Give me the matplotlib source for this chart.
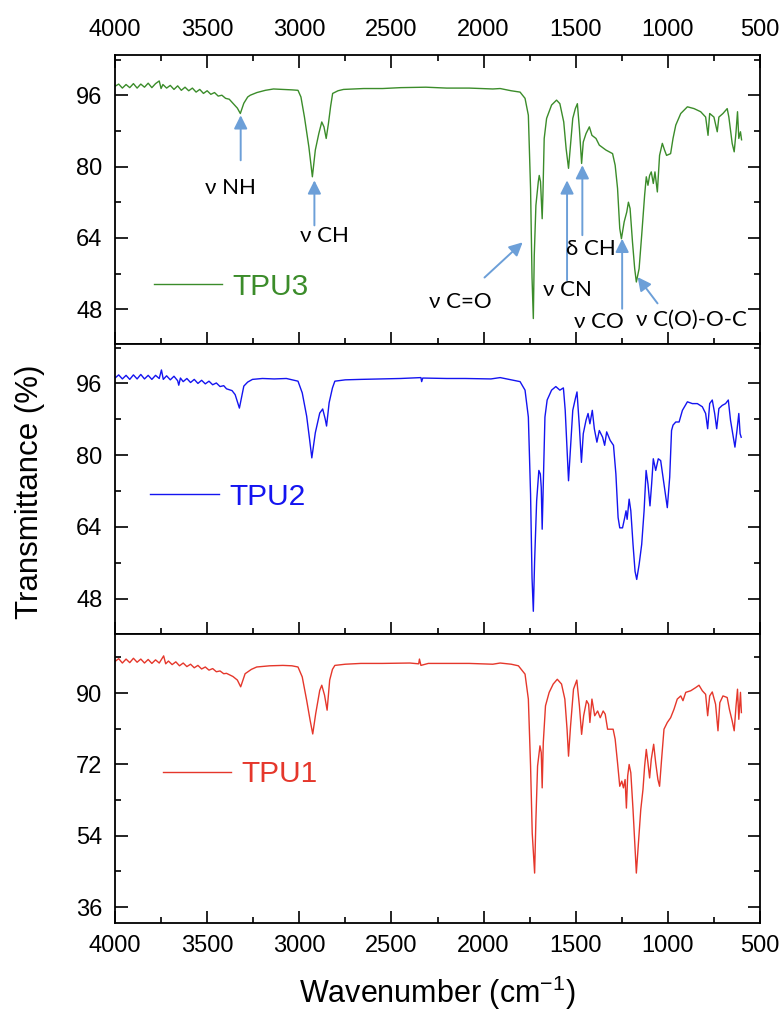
import matplotlib
matplotlib.use("Agg")
import matplotlib.pyplot as plt
from matplotlib.ticker import MultipleLocator

plt.rcParams['font.family'] = ['Liberation Sans', 'DejaVu Sans']
plt.rcParams['mathtext.fontset'] = 'custom'
plt.rcParams['mathtext.rm'] = 'Liberation Sans'
plt.rcParams['mathtext.it'] = 'Liberation Sans:italic'
plt.rcParams['mathtext.bf'] = 'Liberation Sans:bold'

# ---------------- data ----------------
tpu3_x = [4000, 3980, 3960, 3940, 3920, 3900, 3880, 3860, 3840, 3820, 3800, 3780, 3760, 3750, 3740,
          3720, 3700, 3680, 3660, 3640, 3620, 3600, 3580, 3560, 3540, 3520, 3500, 3480, 3460, 3440,
          3420, 3400, 3380, 3360, 3336, 3320, 3301, 3280, 3266, 3230, 3184,
          3140, 3089, 3040, 3007, 2991, 2972, 2948, 2929, 2913, 2894, 2878, 2866, 2854, 2842, 2830,
          2819, 2790, 2760, 2650, 2548, 2450, 2313, 2200, 2078, 1950, 1910, 1850, 1802, 1775, 1757,
          1745, 1737, 1730, 1725, 1716, 1703, 1698, 1691, 1682, 1678, 1671, 1658, 1631, 1604, 1586,
          1565, 1552, 1539, 1530, 1516, 1502, 1491, 1480, 1468, 1459, 1444, 1426, 1412, 1390, 1372,
          1336, 1300, 1286, 1273, 1261, 1252, 1237, 1223, 1214, 1205, 1192, 1180, 1171, 1156, 1142,
          1126, 1117, 1108, 1099, 1090, 1079, 1070, 1057, 1045, 1030, 1018, 1007, 985, 972, 957,
          930, 894, 858, 822, 795, 782, 773, 750, 732, 723, 701, 678, 669, 651, 640,
          630, 622, 615, 606, 600]
tpu3_y = [98.0, 98.5, 97.6, 98.4, 97.7, 98.6, 97.6, 98.5, 97.8, 98.7, 97.7, 98.6, 99.2, 97.5, 98.4,
          97.6, 98.2, 97.3, 98.1, 97.1, 97.8, 97.0, 97.6, 96.7, 97.3, 96.4, 97.0, 96.2, 96.6, 95.8,
          96.0, 95.3, 95.1, 94.2, 93.1, 91.9, 94.2, 95.6, 96.0, 96.6, 97.1,
          97.4, 97.3, 97.2, 97.1, 95.6, 91.1, 84.4, 77.7, 83.7, 87.4, 90.0, 88.9, 86.3, 89.6, 93.5,
          96.4, 97.0, 97.3, 97.5, 97.5, 97.7, 97.8, 97.6, 97.6, 97.4, 97.5, 97.0, 96.7, 95.3, 91.5,
          75.0, 55.0, 45.9, 60.0, 71.3, 76.6, 78.0, 76.6, 68.3, 73.6, 86.3, 90.8, 93.8, 94.9, 94.1,
          90.0, 84.0, 79.6, 84.0, 90.8, 93.0, 94.1, 88.5, 80.7, 85.5, 87.4, 88.9, 87.0, 86.3, 84.8,
          83.7, 82.9, 80.3, 75.1, 66.1, 63.8, 67.6, 69.8, 72.0, 70.6, 63.1, 57.1, 54.1, 57.1, 64.6,
          73.6, 77.7, 75.8, 78.0, 78.8, 76.2, 78.8, 74.3, 82.5, 85.2, 83.7, 82.5, 82.9, 86.3, 89.3,
          91.9, 93.4, 93.0, 92.3, 91.1, 87.0, 91.9, 91.1, 87.8, 91.1, 91.9, 93.0, 91.1, 85.2, 83.3,
          87.8, 92.3, 86.3, 87.8, 86.0]

tpu2_x = [4000, 3980, 3960, 3940, 3920, 3900, 3880, 3860, 3840, 3820, 3800, 3780, 3760, 3748, 3738,
          3720, 3700, 3680, 3660, 3654, 3645, 3630, 3610, 3590, 3570, 3550, 3530, 3510, 3490, 3470,
          3450, 3430, 3410, 3395, 3365, 3348, 3325, 3301, 3280, 3254,
          3200, 3136, 3070, 3007, 2984, 2960, 2944, 2932, 2913, 2889, 2873, 2859, 2852, 2838, 2820,
          2807, 2750, 2666, 2550, 2450, 2340, 2336, 2330, 2200, 2100, 1960, 1910, 1850, 1802, 1775,
          1757, 1745, 1737, 1730, 1723, 1712, 1700, 1692, 1687, 1682, 1676, 1667, 1655, 1631, 1608,
          1586, 1567, 1565, 1557, 1547, 1539, 1530, 1516, 1502, 1493, 1480, 1469, 1459, 1444, 1433,
          1423, 1410, 1399, 1385, 1372, 1354, 1343, 1332, 1313, 1295, 1282, 1270, 1261, 1246, 1234,
          1227, 1221, 1210, 1201, 1189, 1178, 1169, 1156, 1142, 1129, 1118, 1108, 1097, 1088, 1079,
          1066, 1052, 1039, 1021, 1003, 990, 980, 972, 957, 939, 921, 894, 867, 840, 813,
          795, 784, 773, 759, 746, 735, 723, 705, 687, 672, 660, 645, 636, 625, 615,
          608, 602]
tpu2_y = [97.2, 97.9, 97.0, 97.8, 96.9, 97.9, 97.0, 98.0, 97.0, 97.8, 96.9, 97.8, 97.1, 99.0, 96.9,
          97.7, 96.8, 97.6, 96.6, 95.6, 97.2, 96.4, 97.1, 96.2, 96.9, 96.0, 96.7, 95.9, 96.5, 95.7,
          96.1, 95.3, 95.5, 94.8, 94.4, 93.5, 90.5, 95.4, 96.3, 96.9,
          97.1, 97.0, 97.1, 96.5, 93.9, 88.7, 83.5, 79.4, 85.0, 89.4, 90.3, 88.0, 86.5, 91.7, 95.0,
          96.5, 96.8, 96.9, 97.0, 97.1, 97.3, 96.4, 97.2, 97.1, 97.1, 97.0, 97.3, 96.8, 96.4, 94.5,
          88.5, 71.3, 52.6, 45.2, 56.4, 69.8, 76.6, 75.8, 72.8, 63.5, 73.6, 88.5, 92.3, 94.5, 95.3,
          94.5, 95.0, 94.1, 90.0, 81.0, 74.3, 80.3, 90.0, 92.6, 94.1, 86.3, 78.4, 84.8, 87.8, 89.3,
          87.0, 90.0, 85.9, 82.9, 85.5, 84.0, 82.2, 85.2, 83.3, 82.2, 75.8, 66.1, 63.8, 63.8, 66.1,
          67.6, 65.7, 70.2, 67.6, 60.1, 54.1, 52.3, 55.6, 60.1, 67.6, 76.6, 73.6, 68.7, 73.6, 79.2,
          76.6, 79.2, 78.8, 73.6, 68.3, 75.1, 85.5, 86.7, 87.4, 87.4, 90.0, 91.9, 91.5, 91.5, 90.8,
          89.3, 85.9, 91.5, 92.3, 89.3, 85.9, 90.4, 91.1, 91.5, 92.3, 87.8, 84.0, 81.8, 85.5, 89.3,
          84.8, 84.0]

tpu1_x = [4000, 3980, 3960, 3940, 3920, 3900, 3880, 3860, 3840, 3820, 3800, 3780, 3760, 3736, 3725,
          3710, 3690, 3670, 3650, 3630, 3610, 3590, 3570, 3550, 3530, 3510, 3490, 3470, 3450, 3430,
          3410, 3395, 3360, 3336, 3318, 3294, 3260, 3231, 3160, 3089,
          3040, 3007, 2984, 2960, 2941, 2927, 2911, 2889, 2878, 2863, 2849, 2835, 2820, 2807, 2750,
          2666, 2550, 2400, 2352, 2348, 2340, 2300, 2200, 2078, 1950, 1910, 1850, 1811, 1775, 1757,
          1745, 1736, 1723, 1716, 1707, 1694, 1687, 1682, 1676, 1664, 1644, 1622, 1600, 1577, 1559,
          1547, 1539, 1528, 1512, 1494, 1480, 1468, 1457, 1441, 1430, 1423, 1412, 1397, 1381, 1367,
          1351, 1340, 1327, 1309, 1297, 1286, 1273, 1261, 1250, 1241, 1232, 1225, 1218, 1210, 1201,
          1189, 1178, 1171, 1162, 1147, 1135, 1126, 1117, 1108, 1099, 1090, 1077, 1066, 1054, 1045,
          1034, 1021, 1003, 985, 967, 949, 930, 918, 903, 876, 849, 831, 813, 795, 784,
          773, 759, 741, 728, 718, 701, 678, 666, 651, 640, 630, 622, 615, 606, 601]
tpu1_y = [98.0, 98.7, 97.6, 98.6, 97.7, 98.8, 97.8, 98.6, 97.6, 98.5, 97.5, 98.4, 97.6, 99.4, 97.4,
          98.1, 97.2, 97.9, 96.9, 97.6, 96.7, 97.3, 96.4, 97.0, 96.1, 96.6, 95.8, 96.2, 95.4, 95.6,
          94.9, 95.0, 94.2, 93.3, 91.6, 94.9, 96.0, 96.6, 96.9, 97.0,
          96.9, 96.6, 94.1, 88.2, 83.1, 79.7, 84.8, 90.7, 92.0, 89.5, 85.7, 93.3, 96.0, 97.0, 97.3,
          97.5, 97.5, 97.6, 97.4, 98.6, 97.0, 97.5, 97.5, 97.5, 97.3, 97.6, 97.3, 96.9, 94.8, 88.5,
          71.6, 54.7, 44.6, 58.1, 71.6, 76.7, 75.0, 66.1, 77.5, 86.8, 90.2, 92.3, 93.5, 92.3, 88.5,
          80.9, 74.1, 81.7, 91.0, 93.3, 86.8, 79.6, 84.3, 88.1, 87.2, 82.6, 88.5, 84.3, 85.5, 83.8,
          85.5, 84.7, 80.9, 80.9, 80.9, 78.4, 72.4, 66.5, 67.8, 66.1, 68.2, 61.0, 69.1, 72.0, 69.9,
          60.6, 50.5, 44.6, 50.5, 60.6, 65.7, 71.6, 75.8, 72.4, 68.6, 73.3, 77.1, 72.4, 68.2, 66.5,
          73.3, 80.9, 82.6, 83.8, 85.9, 88.5, 89.3, 88.1, 90.2, 90.6, 91.4, 92.0, 90.6, 89.7, 84.3,
          89.3, 90.3, 87.2, 80.5, 87.6, 89.3, 88.9, 85.9, 83.0, 80.5, 86.8, 91.0, 83.4, 90.2, 85.1]

series_names = ["TPU3", "TPU2", "TPU1"]
series_colors = ["#3b8c2a", "#1414f0", "#e5372b"]
series_x = [tpu3_x, tpu2_x, tpu1_x]
series_y = [tpu3_y, tpu2_y, tpu1_y]

ylims = [(40.1, 105.0), (40.2, 104.7), (32.0, 105.0)]
ymajor = [16, 16, 18]
yticks = [[48, 64, 80, 96], [48, 64, 80, 96], [36, 54, 72, 90]]
legend_anchor = [(0.060, 0.200), (0.055, 0.473), (0.074, 0.514)]

xticks = [4000, 3500, 3000, 2500, 2000, 1500, 1000, 500]

# annotations in top panel: label, text position, arrow tail, arrow tip
ann_labels = ["ν NH", "ν CH", "ν C=O", "ν CN", "δ CH", "ν CO", "ν C(O)-O-C"]
ann_text_xy = [(3372, 75.1), (2866, 64.4), (2125, 49.6), (1545, 52.3), (1416, 61.6), (1372, 45.2), (872, 45.5)]
ann_tail = [(3318, 81.4), (2918, 66.8), (1995, 55.1), (1547, 54.5), (1464, 64.6), (1248, 48.1), (1056, 49.3)]
ann_tip = [(3318, 91.5), (2918, 76.9), (1788, 63.0), (1547, 76.9), (1464, 80.3), (1248, 63.8), (1164, 55.2)]
arrow_color = "#6c9fd8"

# ---------------- figure ----------------
W, H = 783, 1014
fig = plt.figure(figsize=(W / 100, H / 100), dpi=100)

left = 115 / W
width = (760 - 115) / W
panel_h = 289.3 / H
bottom0 = (H - 923) / H

tick_fs = 17
axes = []
for i in range(3):
    b = bottom0 + (2 - i) * panel_h
    ax = fig.add_axes([left, b, width, panel_h])
    axes.append(ax)
    ax.plot(series_x[i], series_y[i], color=series_colors[i], lw=1.0, label=series_names[i])
    ax.set_xlim(4000, 500)
    ax.set_ylim(*ylims[i])
    ax.set_xticks(xticks)
    ax.xaxis.set_minor_locator(MultipleLocator(250))
    ax.set_yticks(yticks[i])
    ax.yaxis.set_minor_locator(MultipleLocator(ymajor[i] / 2))
    for s in ax.spines.values():
        s.set_linewidth(1.3)
    ax.tick_params(axis='y', which='both', direction='in', left=True, right=True,
                   labelsize=tick_fs, pad=9, width=1.2)
    ax.tick_params(axis='y', which='major', length=9)
    ax.tick_params(axis='y', which='minor', length=4.5)
    if i == 0:
        ax.tick_params(axis='x', which='both', direction='in', top=True, bottom=True,
                       labeltop=True, labelbottom=False, labelsize=tick_fs, pad=10, width=1.2)
    elif i == 1:
        ax.tick_params(axis='x', which='both', direction='in', top=False, bottom=True,
                       labeltop=False, labelbottom=False, width=1.2)
    else:
        ax.tick_params(axis='x', which='both', direction='in', top=False, bottom=True,
                       labeltop=False, labelbottom=True, labelsize=tick_fs, pad=9, width=1.2)
    ax.tick_params(axis='x', which='major', length=9)
    ax.tick_params(axis='x', which='minor', length=4.5)

    leg = ax.legend(loc='center left', bbox_to_anchor=legend_anchor[i], frameon=False,
                    fontsize=21.5, handlelength=2.3, handletextpad=0.35,
                    borderpad=0, borderaxespad=0)
    for t in leg.get_texts():
        t.set_color(series_colors[i])

ax0 = axes[0]
for lab, txy, tail, tip in zip(ann_labels, ann_text_xy, ann_tail, ann_tip):
    ax0.annotate('', xy=tip, xytext=tail,
                 arrowprops=dict(arrowstyle='-|>', color=arrow_color, lw=1.4,
                                 mutation_scale=20, shrinkA=0, shrinkB=0))
    ax0.text(txy[0], txy[1], lab, ha='center', va='center', fontsize=16,
             family=['Lato', 'DejaVu Sans'], color='black')

fig.text(30 / W, 1 - 492 / H, "Transmittance (%)", rotation=90, ha='center', va='center',
         fontsize=22.5)
fig.text(437.5 / W, 1 - 993 / H, r"Wavenumber (cm$^{-1}$)", ha='center', va='center',
         fontsize=22)

fig.savefig("out.png", dpi=100)
